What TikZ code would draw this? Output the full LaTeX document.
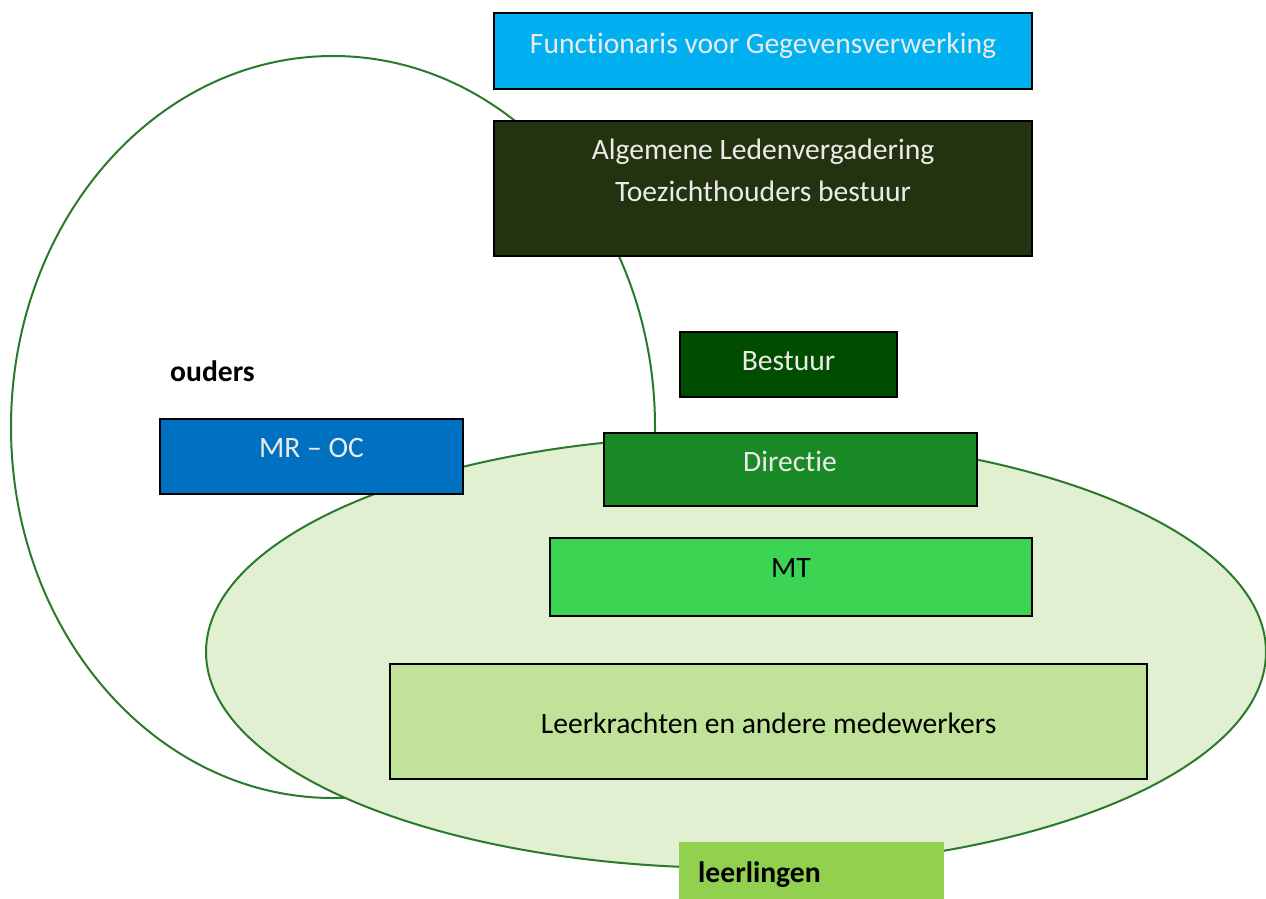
\documentclass[tikz,border=0pt]{standalone}
\usepackage{fontspec}
\setmainfont{Carlito}[Ligatures={NoCommon}]
\usetikzlibrary{positioning}
\definecolor{fgcyan}{HTML}{00B0F0}
\definecolor{aldark}{HTML}{24330F}
\definecolor{bsgreen}{HTML}{004D00}
\definecolor{mrblue}{HTML}{0070C0}
\definecolor{dirgreen}{HTML}{198A25}
\definecolor{mtgreen}{HTML}{3CD553}
\definecolor{lkgreen}{HTML}{C0E399}
\definecolor{llgreen}{HTML}{92D050}
\definecolor{ellfill}{HTML}{E0F0D0}
\definecolor{ringgreen}{HTML}{2B7A2B}

\begin{document}
\begin{tikzpicture}[x=1pt,y=-1pt,
  font=\fontsize{29.6}{42}\selectfont,
  box/.style={draw=black,line width=2pt,inner sep=0pt,anchor=base},
  lighttext/.style={text=white!92!black},
  ring/.style={draw=ringgreen,line width=2pt}]

\path[use as bounding box,fill=white] (0,0) rectangle (1266,899);

\coordinate (ou) at (333,427);
\coordinate (ll) at (736,652);
\draw[ring] (ou) ellipse [x radius=322, y radius=371];
\draw[ring,fill=ellfill] (ll) ellipse [x radius=530, y radius=216];

\node[box,fill=fgcyan,lighttext,minimum width=538pt,text height=40pt,text depth=36pt] (fg) at (763,53) {Functionaris voor Gegevensverwerking};
\node[box,fill=aldark,lighttext,minimum width=538pt,text height=80pt,text depth=55pt,align=center] (alv) at (763,201) {Algemene Ledenvergadering\\Toezichthouders bestuur};
\node[box,fill=bsgreen,lighttext,minimum width=217pt,text height=38pt,text depth=27pt] (best) at (788.5,370) {Bestuur};
\node[box,fill=mrblue,lighttext,minimum width=303pt,text height=38pt,text depth=37pt] (mroc) at (311.5,457) {MR -- OC};
\node[box,fill=dirgreen,lighttext,minimum width=373pt,text height=38pt,text depth=35pt] (dir) at (790,471) {Directie};
\node[box,fill=mtgreen,minimum width=482pt,text height=39pt,text depth=39pt] (mt) at (791,577) {MT};
\node[box,fill=lkgreen,minimum width=757pt,text height=69pt,text depth=46pt] (lk) at (768.5,733) {Leerkrachten en andere medewerkers};

\node[anchor=base west,inner sep=0pt,font=\fontsize{29.6}{42}\selectfont\bfseries] (ouders) at (170,381) {ouders};
\node[anchor=base west,fill=llgreen,inner xsep=19pt,inner ysep=0pt,text width=227pt,text height=40pt,text depth=18pt,font=\fontsize{29.6}{42}\selectfont\bfseries] (leerl) at (679,882) {leerlingen};

\end{tikzpicture}
\end{document}
